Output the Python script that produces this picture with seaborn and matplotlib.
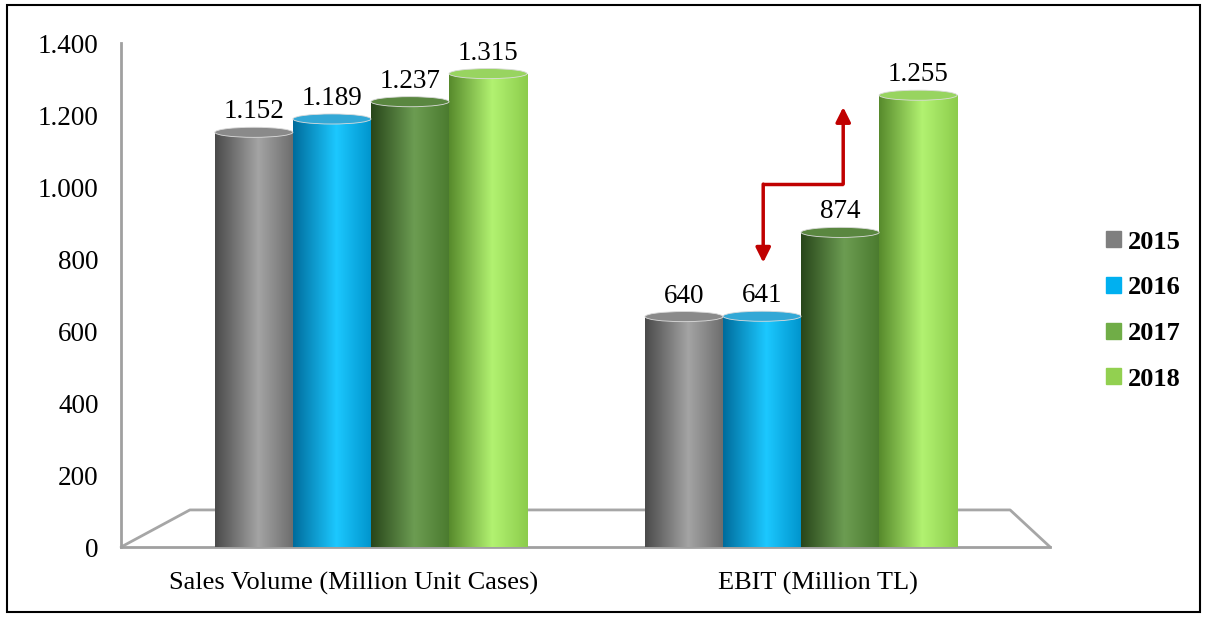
import numpy as np
import pandas as pd
import matplotlib
matplotlib.use("Agg")
import matplotlib.pyplot as plt
import matplotlib.patches as mpatches
from matplotlib.colors import to_rgb
import seaborn as sns

# dados
metrics = ["Sales Volume (Million Unit Cases)", "EBIT (Million TL)"]
years = ["2015", "2016", "2017", "2018"]
sales_volume = [1152, 1189, 1237, 1315]
ebit = [640, 641, 874, 1255]
y_ticks = [0, 200, 400, 600, 800, 1000, 1200, 1400]

legend_colors = ["#7f7f7f", "#00b0f0", "#70ad47", "#92d050"]
# (escuro, claro, lado direito) para o efeito de cilindro
shades = [
    ("#4a4a4a", "#a4a4a4", "#6c6c6c"),
    ("#006c9c", "#1cc8ff", "#0094cc"),
    ("#28461a", "#6c9c52", "#4a7a2e"),
    ("#578a2c", "#b2f271", "#8ccc4c"),
]
top_colors = ["#8a8a8a", "#33a8d6", "#5a8740", "#98d460"]

# seta vermelha (coordenadas de anotacao)
arrow_x = [0.912, 0.912, 1.098, 1.098]
arrow_y = [790, 1008, 1008, 1222]


def fmt(v):
    return f"{int(v):,}".replace(",", ".")


def gradient(dark, light, right, n=256):
    t = np.linspace(0, 1, n)
    cols = np.array([to_rgb(dark), to_rgb(light), to_rgb(right)])
    rgb = np.stack([np.interp(t, [0, 0.55, 1], cols[:, i]) for i in range(3)], axis=-1)
    return rgb[np.newaxis, :, :]


data = pd.DataFrame({
    "metric": [metrics[0]] * 4 + [metrics[1]] * 4,
    "year": years * 2,
    "value": sales_volume + ebit,
})

sns.set_style("white")
plt.rcParams["font.family"] = ["Liberation Serif", "DejaVu Serif"]
plt.rcParams["text.color"] = "black"
plt.rcParams["xtick.labelcolor"] = "black"
plt.rcParams["ytick.labelcolor"] = "black"

fig = plt.figure(figsize=(12.07, 6.19), dpi=100)
ax = fig.add_axes([0.1003, 0.1163, 0.7697, 0.8142])

sns.barplot(data=data, x="metric", y="value", hue="year", order=metrics,
            hue_order=years, palette=dict(zip(years, legend_colors)),
            width=0.726, linewidth=0, ax=ax, legend=False, zorder=3)

xlo, xhi = -0.581, 1.579

# chao em perspectiva
floor_x = [xlo, -0.421, 1.486, xhi]
floor_y = [0, 103, 103, 0]
ax.plot(floor_x, floor_y, color="#a6a6a6", lw=2, zorder=1, clip_on=False)

for i, container in enumerate(ax.containers):
    for bar in container:
        x0 = bar.get_x()
        w = bar.get_width()
        h = bar.get_height()
        im = ax.imshow(gradient(*shades[i]), extent=(x0, x0 + w, 0, h),
                       aspect="auto", zorder=4, interpolation="bilinear")
        im.set_clip_path(bar)
        top = mpatches.Ellipse((x0 + w / 2, h), w, 28, facecolor=top_colors[i],
                               edgecolor="#dcdcdc", lw=0.6, zorder=5)
        ax.add_patch(top)
        ax.text(x0 + w / 2, h + 22, fmt(h), ha="center", va="bottom",
                fontsize=19.5, zorder=6)

# seta
ax.plot(arrow_x[1:3], arrow_y[1:3], color="#c00000", lw=2.5, zorder=7,
        solid_capstyle="butt")
ax.annotate("", xy=(arrow_x[0], arrow_y[0]), xytext=(arrow_x[1], arrow_y[1]),
            arrowprops=dict(arrowstyle="-|>", color="#c00000", lw=2.5,
                            mutation_scale=22, shrinkA=0, shrinkB=0), zorder=7)
ax.annotate("", xy=(arrow_x[3], arrow_y[3]), xytext=(arrow_x[2], arrow_y[2]),
            arrowprops=dict(arrowstyle="-|>", color="#c00000", lw=2.5,
                            mutation_scale=22, shrinkA=0, shrinkB=0), zorder=7)

ax.set_xlim(xlo, xhi)
ax.set_ylim(0, 1400)
ax.set_yticks(y_ticks)
ax.set_yticklabels([fmt(v) for v in y_ticks], fontsize=19.5)
span = xhi - xlo
ax.set_xticks([xlo + span * 0.25, xlo + span * 0.75])
ax.set_xticklabels(metrics, fontsize=19)
ax.set_xticks([xlo, 0.5, xhi], minor=True)
ax.tick_params(axis="x", which="major", length=0, pad=18)
ax.tick_params(axis="x", which="minor", length=6, width=1.5, color="#a0a0a0",
               direction="out")
ax.tick_params(axis="y", length=6, width=1.5, color="#a0a0a0", direction="out",
               pad=10)
ax.set_xlabel("")
ax.set_ylabel("")
for side in ["top", "right"]:
    ax.spines[side].set_visible(False)
for side in ["left", "bottom"]:
    ax.spines[side].set_color("#a0a0a0")
    ax.spines[side].set_linewidth(2)

handles = [mpatches.Patch(color=c) for c in legend_colors]
fig.legend(handles, years, loc="center left", bbox_to_anchor=(0.897, 0.498),
           frameon=False, prop={"size": 19, "weight": "bold"},
           handlelength=0.55, handleheight=0.55, handletextpad=0.25,
           labelspacing=0.86)

fig.patches.append(mpatches.Rectangle((7 / 1207, 7 / 619), 1193 / 1207, 607 / 619,
                                      transform=fig.transFigure, fill=False,
                                      edgecolor="black", lw=1.5))

fig.savefig("out.png", dpi=100)
